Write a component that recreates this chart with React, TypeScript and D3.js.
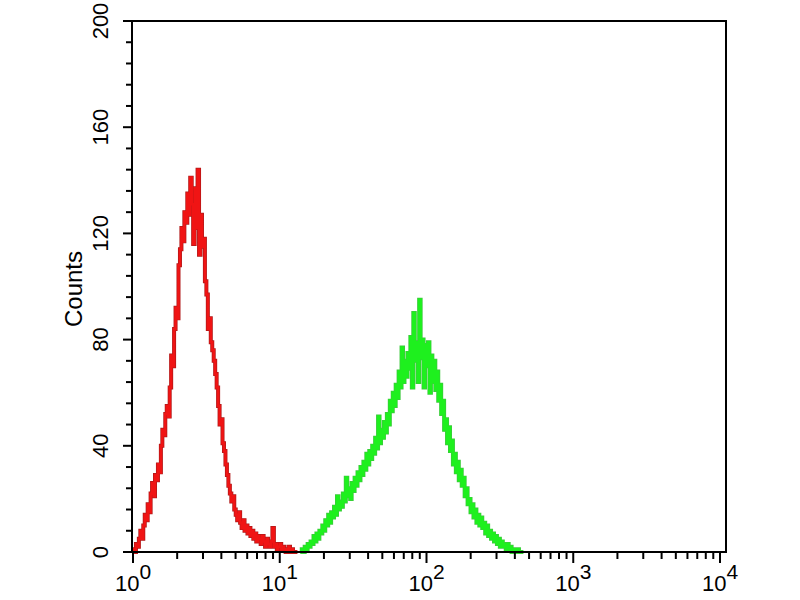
import { useEffect, useRef } from "react"
import * as d3 from 'd3'

// histogram channels, 0.01 decade wide each
const binStep = 0.01
const redStart = 0
const redCounts = [
  1, 0, 3, 2, 5, 8, 5, 10, 14, 12, 18, 15, 22, 26, 21, 29, 27, 33, 30, 40,
  46, 44, 52, 55, 51, 62, 74, 70, 84, 92, 88, 108, 114, 122, 117, 128, 124, 135, 127, 141,
  131, 116, 137, 122, 144, 112, 127, 115, 118, 102, 97, 84, 88, 79, 76, 72, 67, 62, 55, 48,
  50, 41, 38, 33, 29, 25, 22, 19, 21, 16, 14, 12, 15, 11, 9, 12, 8, 10, 7, 9,
  6, 8, 5, 7, 4, 6, 5, 3, 6, 4, 2, 5, 3, 2, 4, 9, 2, 3, 1, 2,
  3, 1, 2, 1, 0, 1, 2, 0, 1, 0, 0, 0
]
const greenStart = 1.14
const greenCounts = [
  0, 1, 0, 2, 1, 3, 2, 4, 3, 6, 4, 7, 5, 8, 7, 10, 8, 12, 10, 14,
  11, 15, 13, 17, 14, 21, 16, 19, 17, 22, 19, 28, 21, 24, 20, 26, 23, 28, 25, 30,
  27, 32, 29, 34, 31, 37, 33, 38, 35, 40, 37, 43, 39, 51, 41, 46, 43, 49, 45, 52,
  48, 57, 53, 60, 55, 63, 58, 68, 62, 77, 64, 72, 66, 75, 69, 81, 62, 90, 72, 79,
  64, 95, 73, 80, 62, 78, 70, 79, 60, 74, 64, 72, 61, 68, 57, 63, 52, 57, 46, 50,
  41, 47, 38, 42, 33, 37, 30, 34, 27, 31, 25, 28, 21, 24, 18, 20, 15, 18, 13, 16,
  11, 14, 10, 13, 9, 11, 7, 10, 6, 8, 5, 7, 4, 6, 3, 5, 2, 4, 2, 3,
  1, 3, 1, 2, 0, 1, 1, 0, 1, 0, 0, 0
]

const yMajor = [0, 40, 80, 120, 160, 200]
const xDecades = [0, 1, 2, 3, 4]

export default function App() {
  const svgRef = useRef<SVGSVGElement>(null)

  useEffect(() => {
    d3.select(svgRef.current).selectAll('*').remove()
    if (svgRef.current) {
      const svg = d3.select(svgRef.current)
      const frame = { left: 132, right: 726, top: 21, bottom: 552 }

      const xScale = d3.scaleLog()
        .domain([1, 1e4])
        .range([133, 720])

      const yScale = d3.scaleLinear()
        .domain([0, 200])
        .range([frame.bottom, frame.top])

      svg.append('rect')
        .attr('width', 800)
        .attr('height', 600)
        .attr('fill', '#fff')

      const drawHist = (counts: number[], start: number, dark: string, bright: string) => {
        const pts: [number, number][] = counts.map((c, i) => [Math.pow(10, start + i * binStep), c])
        pts.push([Math.pow(10, start + counts.length * binStep), counts[counts.length - 1]])
        const line = d3.line<[number, number]>()
          .x(d => xScale(d[0]))
          .y(d => yScale(d[1]))
          .curve(d3.curveStepAfter)
        svg.append('path')
          .datum(pts)
          .attr('fill', 'none')
          .attr('stroke', dark)
          .attr('stroke-width', 4)
          .attr('d', line)
        svg.append('path')
          .datum(pts)
          .attr('fill', 'none')
          .attr('stroke', bright)
          .attr('stroke-width', 2.6)
          .attr('d', line)
      }

      drawHist(redCounts, redStart, '#b01818', '#f01414')
      drawHist(greenCounts, greenStart, '#3cc83c', '#1ef01e')

      svg.append('rect')
        .attr('x', frame.left)
        .attr('y', frame.top)
        .attr('width', frame.right - frame.left)
        .attr('height', frame.bottom - frame.top)
        .attr('fill', 'none')
        .attr('stroke', '#000')
        .attr('stroke-width', 2)

      // y ticks
      const yTicks = d3.range(0, 201, 8)
      svg.append('g')
        .selectAll('line')
        .data(yTicks)
        .join('line')
        .attr('x1', d => frame.left - (d % 40 === 0 ? 9 : 6))
        .attr('x2', frame.left)
        .attr('y1', d => yScale(d))
        .attr('y2', d => yScale(d))
        .attr('stroke', '#000')
        .attr('stroke-width', 2)

      svg.append('g')
        .selectAll('text')
        .data(yMajor)
        .join('text')
        .attr('transform', d => `translate(108,${yScale(d)}) rotate(-90)`)
        .attr('text-anchor', 'middle')
        .attr('font-family', 'Liberation Sans, Arial, sans-serif')
        .attr('font-size', 22)
        .attr('fill', '#000')
        .text(d => d)

      // x ticks
      const xTicks: number[] = []
      xDecades.slice(0, -1).forEach(e => {
        for (let m = 1; m < 10; m++) xTicks.push(m * Math.pow(10, e))
      })
      xTicks.push(1e4)
      svg.append('g')
        .selectAll('line')
        .data(xTicks)
        .join('line')
        .attr('x1', d => xScale(d))
        .attr('x2', d => xScale(d))
        .attr('y1', frame.bottom)
        .attr('y2', d => frame.bottom + (Number.isInteger(Math.log10(d)) ? 11 : 7))
        .attr('stroke', '#000')
        .attr('stroke-width', 2)

      const xl = svg.append('g')
        .selectAll('text')
        .data(xDecades)
        .join('text')
        .attr('x', d => xScale(Math.pow(10, d)))
        .attr('y', 591)
        .attr('text-anchor', 'middle')
        .attr('font-family', 'Liberation Sans, Arial, sans-serif')
        .attr('font-size', 22)
        .attr('fill', '#000')
      xl.append('tspan').text('10')
      xl.append('tspan')
        .attr('dy', -12)
        .attr('font-size', 21)
        .text(d => d)

      svg.append('text')
        .attr('transform', 'translate(82,289) rotate(-90)')
        .attr('text-anchor', 'middle')
        .attr('font-family', 'Liberation Sans, Arial, sans-serif')
        .attr('font-size', 24)
        .attr('fill', '#000')
        .text('Counts')
    }
  }, [])

  return (
    <svg ref={svgRef} width="800" height="600"
      style={{ position: 'absolute', left: 0, top: 0 }}></svg>
  )
}
